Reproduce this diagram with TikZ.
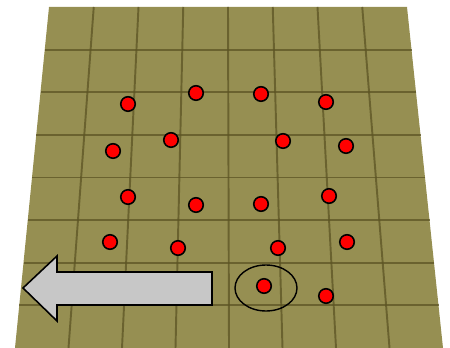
\documentclass[tikz,border=0pt]{standalone}
\usepackage{tikz}
\usetikzlibrary{calc}
\definecolor{olivefloor}{RGB}{150,143,82}
\definecolor{oliveline}{RGB}{92,84,36}
\colorlet{arrowgray}{black!22}
\tikzset{floor/grid/.style={oliveline, line width=1.1pt, opacity=0.75},
  floor/dot/.style={circle, fill=red, draw=black, line width=0.9pt, minimum size=0.29cm, inner sep=0pt}}

\begin{document}
\begin{tikzpicture}[x=0.02cm, y=-0.02cm]
  \useasboundingbox (0,0) rectangle (450,348);
  \coordinate (TL) at (49,7);
  \coordinate (TR) at (407,7);
  \coordinate (BR) at (443,348);
  \coordinate (BL) at (15,348);
  \fill[olivefloor] (TL) -- (TR) -- (BR) -- (BL) -- cycle;
\foreach \t in {0.125,0.25,...,0.9} {
  \draw[floor/grid] ($(TL)!\t!(TR)$) -- ($(BL)!\t!(BR)$);
  \draw[floor/grid] ($(TL)!\t!(BL)$) -- ($(TR)!\t!(BR)$);
}
\node[floor/dot] (d1) at (128,104) {};
\node[floor/dot] (d2) at (196,93) {};
\node[floor/dot] (d3) at (261,94) {};
\node[floor/dot] (d4) at (326,102) {};
\node[floor/dot] (d5) at (113,151) {};
\node[floor/dot] (d6) at (171,140) {};
\node[floor/dot] (d7) at (283,141) {};
\node[floor/dot] (d8) at (346,146) {};
\node[floor/dot] (d9) at (128,197) {};
\node[floor/dot] (d10) at (196,205) {};
\node[floor/dot] (d11) at (261,204) {};
\node[floor/dot] (d12) at (329,196) {};
\node[floor/dot] (d13) at (110,242) {};
\node[floor/dot] (d14) at (178,248) {};
\node[floor/dot] (d15) at (278,248) {};
\node[floor/dot] (d16) at (347,242) {};
\node[floor/dot] (d17) at (264,286) {};
\node[floor/dot] (d18) at (326,296) {};
\draw[line width=0.8pt] (266,288) ellipse [x radius=31, y radius=23];
\draw[fill=arrowgray, line width=0.9pt] (23,288) -- (57,256) -- (57,272) -- (212,272)
  -- (212,305) -- (57,305) -- (57,321) -- cycle;
\end{tikzpicture}
\end{document}
